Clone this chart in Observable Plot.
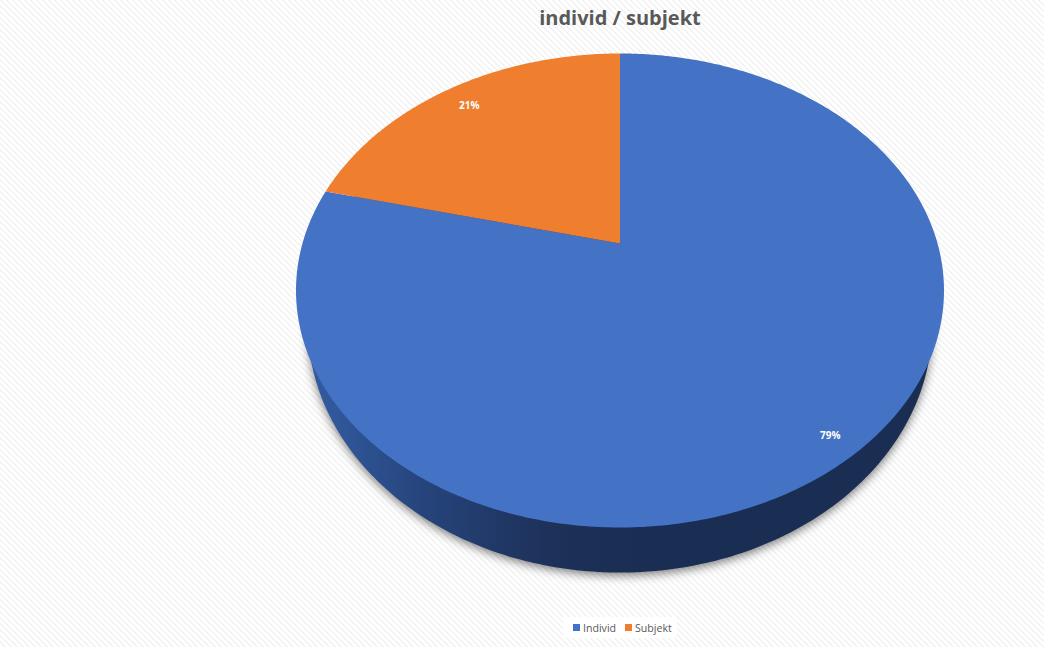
<!DOCTYPE html>
<html lang="sv">
<head>
<meta charset="utf-8">
<script src="https://cdn.jsdelivr.net/npm/d3@7"></script>
<script src="https://cdn.jsdelivr.net/npm/@observablehq/plot@0.6"></script>
<style>
html,body{margin:0;padding:0;width:1044px;height:647px;overflow:hidden;background-color:#fff;
  background-image:url("data:image/svg+xml,%3Csvg xmlns='http://www.w3.org/2000/svg' width='6' height='6' shape-rendering='crispEdges'%3E%3Cpath fill='%23f2f2f2' d='M0 0h2v1H0zM1 1h2v1H1zM2 2h2v1H2zM3 3h2v1H3zM4 4h2v1H4zM5 5h1v1H5zM0 5h1v1H0z'/%3E%3C/svg%3E");}
#title{height:36px;margin-left:196px;text-align:center;font:700 20px/36px "Open Sans",sans-serif;color:#595959;}
#chart svg{display:block;background:transparent;overflow:visible;}
#legend{position:absolute;left:563px;top:617px;width:104px;padding-left:10px;height:21px;background:#fff;display:flex;align-items:center;justify-content:flex-start;gap:9px;font:10.6px "Open Sans",sans-serif;color:#595959;}
#legend span{display:flex;align-items:center;gap:3px;}
#legend i{display:block;width:7px;height:7px;}
</style>
</head>
<body>
<div id="title"></div>
<div id="chart"></div>
<div id="legend"></div>
<script>
const titleText = "individ / subjekt";
const categories = ["Individ", "Subjekt"];
const values = [78.85, 21.15];
const colors = ["#4472C4", "#F07E2F"];
const labelRadius = [0.92, 0.875];

// Perspective tilt of the disk: the slices' apex sits above the ellipse centre.
const tilt = 0.198;
const project = (r, a) => {
  const u = r * Math.sin(a), v = r * Math.cos(a), d = 1 + tilt * v;
  return {x: Math.sqrt(1 - tilt * tilt) * u / d, y: (v + tilt) / d};
};
const arcs = d3.pie().sort(null)(values);

const slicePoints = arcs.flatMap((arc, i) => {
  const n = Math.ceil((arc.endAngle - arc.startAngle) * 80);
  const rim = d3.range(n + 1).map(k =>
    project(1, arc.startAngle + (arc.endAngle - arc.startAngle) * k / n));
  return [project(0, 0), ...rim].map(p => ({...p, name: categories[i]}));
});
const labels = arcs.map((arc, i) => ({
  ...project(labelRadius[i], (arc.startAngle + arc.endAngle) / 2),
  text: Math.round(values[i]) + "%"
}));
// The lower rim of the pie, smaller and lower than the top face.
const wallCx = 0.963, wallCy = 1.042, wallDrop = -0.148;
const wall = d3.range(361).map(k => ({
  x: wallCx * Math.sin(k * Math.PI / 180),
  y: wallDrop + wallCy * Math.cos(k * Math.PI / 180)
}));

const chart = Plot.plot({
  width: 1044, height: 574,
  marginLeft: 295.5, marginRight: 100.5, marginTop: 17, marginBottom: 83,
  x: {domain: [-1, 1], axis: null},
  y: {domain: [-1, 1], axis: null},
  color: {domain: categories, range: colors},
  style: {background: "transparent"},
  marks: [
    Plot.line(wall, {x: "x", y: "y", fill: "url(#wallShade)", stroke: "none",
      imageFilter: "drop-shadow(0 3px 5px rgba(0,0,0,0.5))"}),
    Plot.line(slicePoints, {x: "x", y: "y", z: "name", fill: "name", stroke: "none"}),
    Plot.text(labels, {x: "x", y: "y", text: "text", fill: "white",
      fontSize: 10, fontWeight: 700, fontFamily: "'Open Sans',sans-serif"})
  ]
});
const grad = d3.select(chart).append("defs").append("linearGradient").attr("id", "wallShade");
[[0, "#325b9e"], [0.04, "#30589b"], [0.184, "#26447c"], [0.29, "#213a69"], [0.388, "#1d3159"], [0.55, "#1a2d52"], [1, "#1a2d52"]]
  .forEach(([o, c]) => grad.append("stop").attr("offset", o).attr("stop-color", c));
document.getElementById("chart").append(chart);

document.getElementById("title").textContent = titleText;
const legend = d3.select("#legend").selectAll("span").data(categories).join("span");
legend.append("i").style("background", (d, i) => colors[i]);
legend.append("b").style("font-weight", 400).text(d => d);
</script>
</body>
</html>
